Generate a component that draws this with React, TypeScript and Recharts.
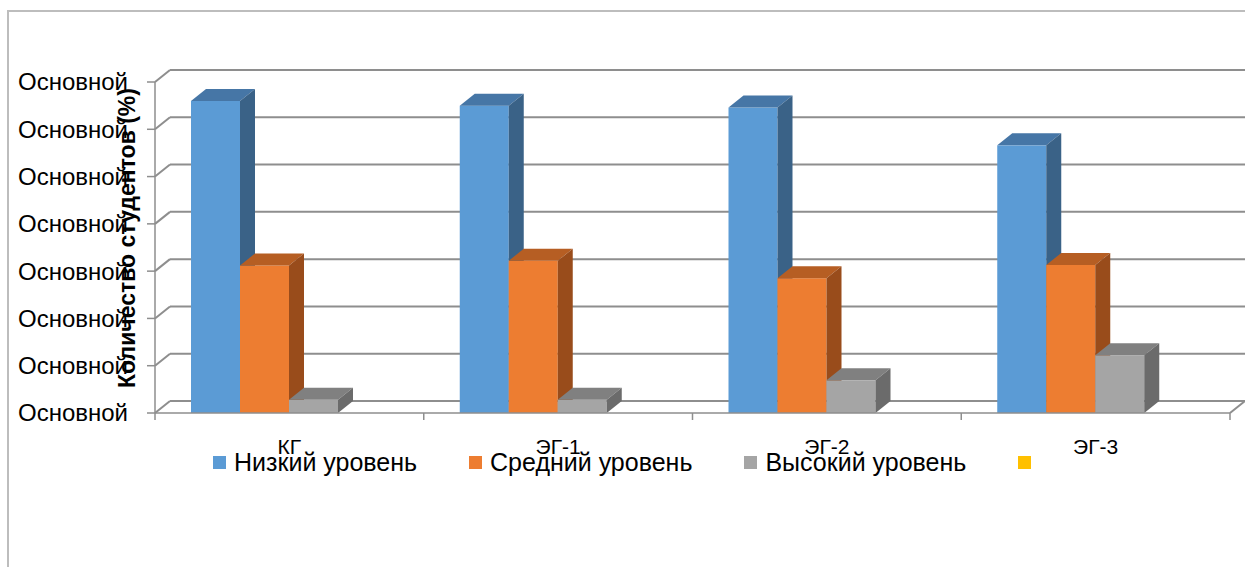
import { BarChart, Bar, XAxis, YAxis, CartesianGrid, Legend } from 'recharts';

const categories = ['КГ', 'ЭГ-1', 'ЭГ-2', 'ЭГ-3'];
const lowLevel = [66, 65, 64.6, 56.6];
const midLevel = [31.2, 32.2, 28.5, 31.3];
const highLevel = [2.8, 2.8, 6.9, 12.2];
const emptyLevel = [0, 0, 0, 0];
const seriesNames = ['Низкий уровень', 'Средний уровень', 'Высокий уровень', ' '];
const yTicks = [0, 10, 20, 30, 40, 50, 60, 70];
const yTickLabel = 'Основной';
const yAxisTitle = 'Количество студентов (%)';

const data = categories.map((category, i) => ({
  category,
  low: lowLevel[i],
  mid: midLevel[i],
  high: highLevel[i],
  empty: emptyLevel[i],
}));

// 3D depth of the Excel-like bars / back wall
const DX = 15;
const DY = -12;
const FONT = '"Liberation Sans", Arial, sans-serif';
const GRID = '#8e8e8e';

const shades = {
  low: { front: '#5B9BD5', top: '#4676A6', side: '#3A6287' },
  mid: { front: '#ED7D31', top: '#B65E23', side: '#994C1B' },
  high: { front: '#A5A5A5', top: '#808080', side: '#6B6B6B' },
  empty: { front: '#FFC000', top: '#C79600', side: '#A67D00' },
};
const seriesKeys: (keyof typeof shades)[] = ['low', 'mid', 'high', 'empty'];

const box3d = (key: keyof typeof shades) => (props: any) => {
  const { x, y, width, height } = props;
  if (!height || height <= 0) return <g />;
  const c = shades[key];
  return (
    <g>
      <rect x={x} y={y} width={width} height={height} fill={c.front} />
      <polygon
        points={`${x},${y} ${x + DX},${y + DY} ${x + width + DX},${y + DY} ${x + width},${y}`}
        fill={c.top}
      />
      <polygon
        points={`${x + width},${y} ${x + width + DX},${y + DY} ${x + width + DX},${y + height + DY} ${x + width},${y + height}`}
        fill={c.side}
      />
    </g>
  );
};

const backWallLine = (props: any) => {
  const { x1, x2, y1, index } = props;
  return (
    <g key={`g-${index}-${y1}`}>
      <line x1={x1} y1={y1} x2={x1 + DX} y2={y1 + DY} stroke={GRID} strokeWidth={2} />
      <line x1={x1 + DX} y1={y1 + DY} x2={x2 + DX} y2={y1 + DY} stroke={GRID} strokeWidth={2} />
      {index === 0 && (
        <line x1={x2} y1={y1} x2={x2 + DX} y2={y1 + DY} stroke={GRID} strokeWidth={2} />
      )}
    </g>
  );
};

const YTick = (props: any) => {
  const { y } = props;
  return (
    <text x={128} y={y} dy="0.35em" textAnchor="end" fontFamily={FONT} fontSize={24} fill="#000">
      {yTickLabel}
    </text>
  );
};

const XTick = (props: any) => {
  const { x, payload, index, visibleTicksCount } = props;
  const half = payload?.offset ?? 134.4;
  return (
    <g>
      <line x1={x - half} y1={413} x2={x - half} y2={420} stroke={GRID} strokeWidth={1.5} />
      {index === (visibleTicksCount ?? 4) - 1 && (
        <line x1={x + half} y1={413} x2={x + half} y2={420} stroke={GRID} strokeWidth={1.5} />
      )}
      <text x={x} y={447} dy="0.35em" textAnchor="middle" fontFamily={FONT} fontSize={21} fill="#000">
        {payload.value}
      </text>
    </g>
  );
};

const renderLegend = () => (
  <div style={{ display: 'flex', alignItems: 'center', paddingLeft: 213, fontFamily: FONT, fontSize: 25, lineHeight: '26px' }}>
    {seriesKeys.map((key, i) => (
      <div key={key} style={{ display: 'flex', alignItems: 'center', marginRight: 52 }}>
        <span style={{ width: 13, height: 13, background: shades[key].front, display: 'inline-block', marginRight: 8 }} />
        <span style={{ color: '#000', whiteSpace: 'pre' }}>{seriesNames[i]}</span>
      </div>
    ))}
  </div>
);

const YTitle = () => (
  <text
    x={127}
    y={238}
    transform="rotate(-90 127 238)"
    textAnchor="middle"
    dominantBaseline="central"
    fontFamily={FONT}
    fontSize={23}
    fontWeight="bold"
    fill="#000"
  >
    {yAxisTitle}
  </text>
);

export default function App() {
  return (
    <div style={{ position: 'absolute', left: 0, top: 0, width: 1245, height: 567, background: '#fff', overflow: 'hidden' }}>
      <div
        style={{
          position: 'absolute',
          left: 7,
          top: 10,
          width: 1300,
          height: 700,
          borderLeft: '2px solid #bdbdbd',
          borderTop: '2px solid #bdbdbd',
        }}
      />
      <div style={{ position: 'absolute', left: 0, top: 0 }}>
        <BarChart
          width={1245}
          height={567}
          data={data}
          margin={{ top: 82, right: 15, left: 8, bottom: 114 }}
          barGap={0}
          barSize={49}
        >
          <CartesianGrid vertical={false} horizontal={backWallLine} />
          <XAxis
            dataKey="category"
            height={40}
            axisLine={{ stroke: GRID, strokeWidth: 1.5 }}
            tickLine={false}
            tick={<XTick />}
            interval={0}
          />
          <YAxis
            width={147}
            domain={[0, 70]}
            ticks={yTicks}
            tickSize={8}
            axisLine={{ stroke: GRID, strokeWidth: 1.5 }}
            tickLine={{ stroke: GRID, strokeWidth: 1.5 }}
            tick={<YTick />}
            label={<YTitle />}
          />
          <Legend
            verticalAlign="middle"
            layout="horizontal"
            wrapperStyle={{ top: 449, left: 0, width: 1245 }}
            content={renderLegend}
          />
          <Bar dataKey="low" name={seriesNames[0]} fill={shades.low.front} shape={box3d('low')} isAnimationActive={false} />
          <Bar dataKey="mid" name={seriesNames[1]} fill={shades.mid.front} shape={box3d('mid')} isAnimationActive={false} />
          <Bar dataKey="high" name={seriesNames[2]} fill={shades.high.front} shape={box3d('high')} isAnimationActive={false} />
          <Bar dataKey="empty" name={seriesNames[3]} fill={shades.empty.front} shape={box3d('empty')} isAnimationActive={false} />
        </BarChart>
      </div>
    </div>
  );
}
